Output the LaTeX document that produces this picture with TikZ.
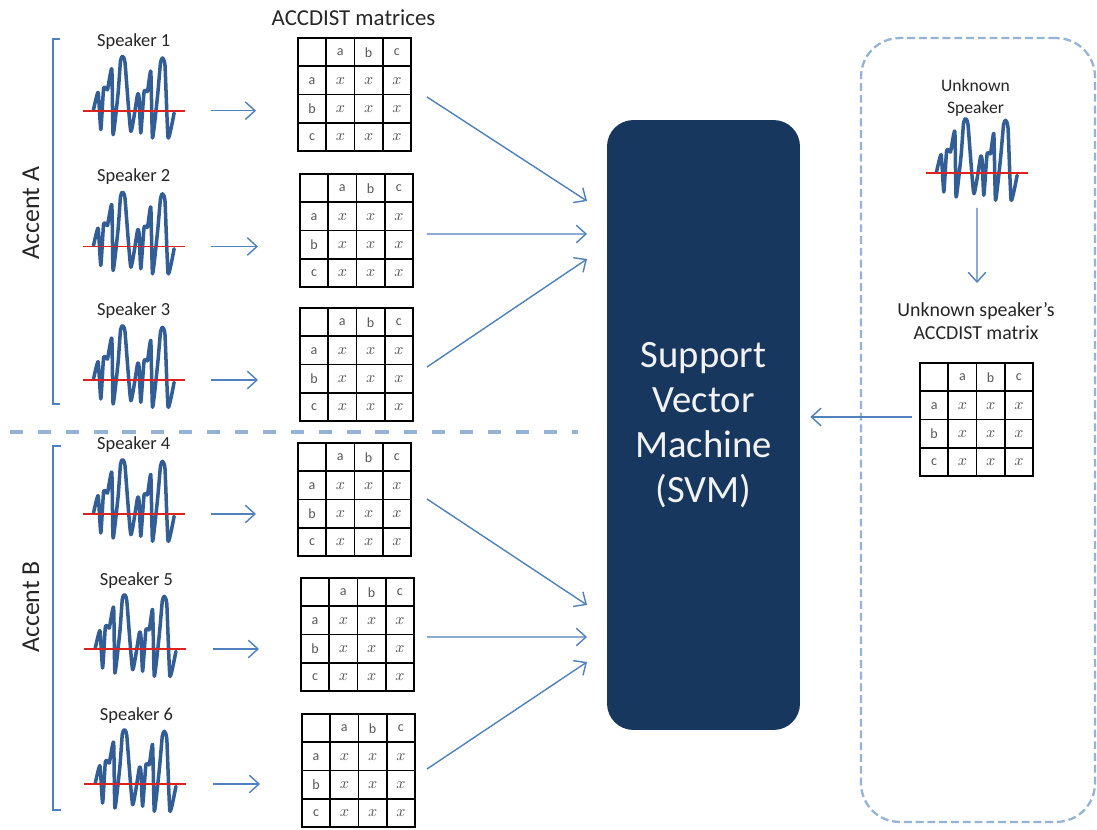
\documentclass[tikz,border=0pt]{standalone}
\usepackage{fontspec}
\setmainfont{Carlito}
\usetikzlibrary{arrows.meta,calc}
\definecolor{wavec}{HTML}{335E95}
\definecolor{redc}{HTML}{DD2222}
\definecolor{arrc}{HTML}{4F81BD}
\definecolor{dashc}{HTML}{95B3D7}
\definecolor{svmc}{HTML}{17375E}
\definecolor{svmtxt}{HTML}{F2F2F2}
\tikzset{
  arr/.style={draw=arrc, line width=0.8pt, -{Straight Barb[length=5.5pt,width=10pt]}},
  brk/.style={draw=arrc, line width=0.8pt},
  sepline/.style={draw=dashc, line width=1.8pt, dash pattern=on 7.5pt off 8.5pt},
  matbox/.style={draw=black, line width=1.1pt, minimum size=2.26cm, inner sep=0pt, outer sep=0pt},
  matline/.style={draw=black, line width=1.1pt},
  celltxt/.style={text=black!65, font=\fontsize{8}{9}\selectfont, inner sep=0pt},
  cellx/.style={text=black!65, font=\fontsize{9}{10}\selectfont, inner sep=0pt},
  spk/.style={font=\fontsize{10.5}{12.6}\selectfont, text=black!85, inner sep=0pt, anchor=base},
  unkt/.style={font=\fontsize{10}{12}\selectfont, text=black!85, inner sep=0pt, anchor=base},
  unkm/.style={font=\fontsize{11.3}{13.5}\selectfont, text=black!85, inner sep=0pt, anchor=base},
  ttl/.style={font=\fontsize{13}{15}\selectfont, text=black!85, inner sep=0pt, anchor=base},
  accent/.style={font=\fontsize{14.7}{17}\selectfont, text=black!85, inner sep=0pt, rotate=90},
  svmbox/.style={fill=svmc, rounded corners=15pt, minimum width=3.86cm, minimum height=12.2cm,
     text=svmtxt, align=center, font=\fontsize{22}{25.5}\selectfont, inner sep=0pt},
  unkbox/.style={draw=dashc, line width=1.3pt, dash pattern=on 4.5pt off 2.2pt, rounded corners=22pt,
     minimum width=4.68cm, minimum height=15.68cm, inner sep=0pt},
  wavebox/.style={minimum width=2.04cm, minimum height=0pt, inner sep=0pt, outer sep=0pt},
  waveline/.style={draw=wavec, line width=2pt, line cap=round, line join=round},
  redline/.style={draw=redc, line width=1pt},
  wave/.pic={
    \draw[waveline] plot[smooth, tension=.28] coordinates {
      (11,-1) (15.6,-18.3) (18.3,19) (21,-21.7) (23.3,-22.7) (25,-21) (29.3,-41.7) (30.6,24)
      (35.6,-17.7) (38,-50) (40,-54.3) (42.5,-48) (48.3,20.7) (55,-16) (56.6,-12.7) (58.3,22.3)
      (61.6,-19.3) (65,-19.3) (68.3,-39.3) (70,27.3) (75,-14.3) (78,-48) (80,-52.7) (82.5,-45)
      (85.6,27.3) (91.6,2.3)};
    \draw[redline] (0,0) -- (102,0);
  }
}
\newcommand\accmat[3]{%
  \begin{scope}[shift={(#2,#3)}]
    \node[matbox] (#1) at (56.5,56.5) {};
    \foreach \k in {1,2,3}{
      \draw[matline] (\k*28.25,0) -- (\k*28.25,113);
      \draw[matline] (0,\k*28.25) -- (113,\k*28.25);
    }
    \foreach \lab [count=\k] in {a,b,c}{
      \node[celltxt] (#1-h\k) at (\k*28.25+14.1,14.6) {\lab};
      \node[celltxt] (#1-r\k) at (14.1,\k*28.25+14.6) {\lab};
      \foreach \j in {1,2,3}
        \node[cellx] (#1-c\k\j) at (\j*28.25+14.1,\k*28.25+14.6) {$x$};
    }
  \end{scope}}
\begin{document}
\begin{tikzpicture}[x=0.02cm, y=-0.02cm]
  \fill[white] (0,0) rectangle (1097,830);
  \useasboundingbox (0,0) rectangle (1097,830);

  % brackets and accent labels
  \draw[brk] (60,39) -- (53,39) -- (53,404) -- (60,404);
  \draw[brk] (61,446) -- (53,446) -- (53,810) -- (61,810);
  \node[accent] (accA) at (31,213) {Accent A};
  \node[accent] (accB) at (31,607) {Accent B};

  % separator
  \draw[sepline] (10,432) -- (578,432);

  % title
  \node[ttl] (title) at (353.5,26) {ACCDIST matrices};

  % speakers
  \node[spk] (l1) at (133.7,46.7) {Speaker 1};
  \node[spk] (l2) at (133.7,181.7) {Speaker 2};
  \node[spk] (l3) at (133.7,315.5) {Speaker 3};
  \node[spk] (l4) at (133.7,449.5) {Speaker 4};
  \node[spk] (l5) at (136.5,585) {Speaker 5};
  \node[spk] (l6) at (136.5,720) {Speaker 6};

  \node[wavebox] (w1) at (133.5,110.7) {};
  \node[wavebox] (w2) at (133.5,246.5) {};
  \node[wavebox] (w3) at (133.5,380) {};
  \node[wavebox] (w4) at (133.5,514) {};
  \node[wavebox] (w5) at (135.3,649) {};
  \node[wavebox] (w6) at (135.3,784) {};
  \foreach \w in {w1,w2,w3,w4,w5,w6} \pic at (\w.west) {wave};

  % matrices
  \accmat{m1}{298}{38}
  \accmat{m2}{300}{174}
  \accmat{m3}{300}{308}
  \accmat{m4}{298}{443}
  \accmat{m5}{301}{578}
  \accmat{m6}{302}{714}

  % speaker -> matrix arrows
  \foreach \i in {1,...,6}
    \draw[arr] ($(w\i.east)+(27,0)$) -- ($(w\i.east -| m\i.west)+(-42,0)$);

  % SVM
  \node[svmbox] (svm) at (703.5,425) {Support\\Vector\\Machine\\(SVM)};

  \coordinate (in1) at (587,201);
  \coordinate (in2) at (587,234);
  \coordinate (in3) at (587,259);
  \coordinate (in4) at (587,605);
  \coordinate (in5) at (587,637);
  \coordinate (in6) at (587,662);
  \draw[arr] ($(m1.east)+(16,2.5)$) -- (in1);
  \draw[arr] ($(m2.east)+(14,3.5)$) -- (in2);
  \draw[arr] ($(m3.east)+(14,2.5)$) -- (in3);
  \draw[arr] ($(m4.east)+(16,-0.5)$) -- (in4);
  \draw[arr] ($(m5.east)+(13,2.5)$) -- (in5);
  \draw[arr] ($(m6.east)+(12,-1.5)$) -- (in6);

  % unknown speaker panel
  \node[unkbox] (ubox) at (978,430) {};
  \node[unkt] (u1) at (975.5,91.7) {Unknown};
  \node[unkt] (u2) at (975.5,114) {Speaker};
  \node[wavebox] (wu) at (976.5,173) {};
  \pic at (wu.west) {wave};
  \coordinate (dn) at (977,283);
  \draw[arr] ($(wu.south)+(0.5,35)$) -- (dn);
  \node[unkm] (um1) at (976,316.7) {Unknown speaker’s};
  \node[unkm] (um2) at (976,340) {ACCDIST matrix};
  \accmat{m7}{920}{363}
  \draw[arr] ($(m7.west)+(-8,-2.5)$) -- ($(svm.east |- m7.west)+(10,-2.5)$);
\end{tikzpicture}
\end{document}
